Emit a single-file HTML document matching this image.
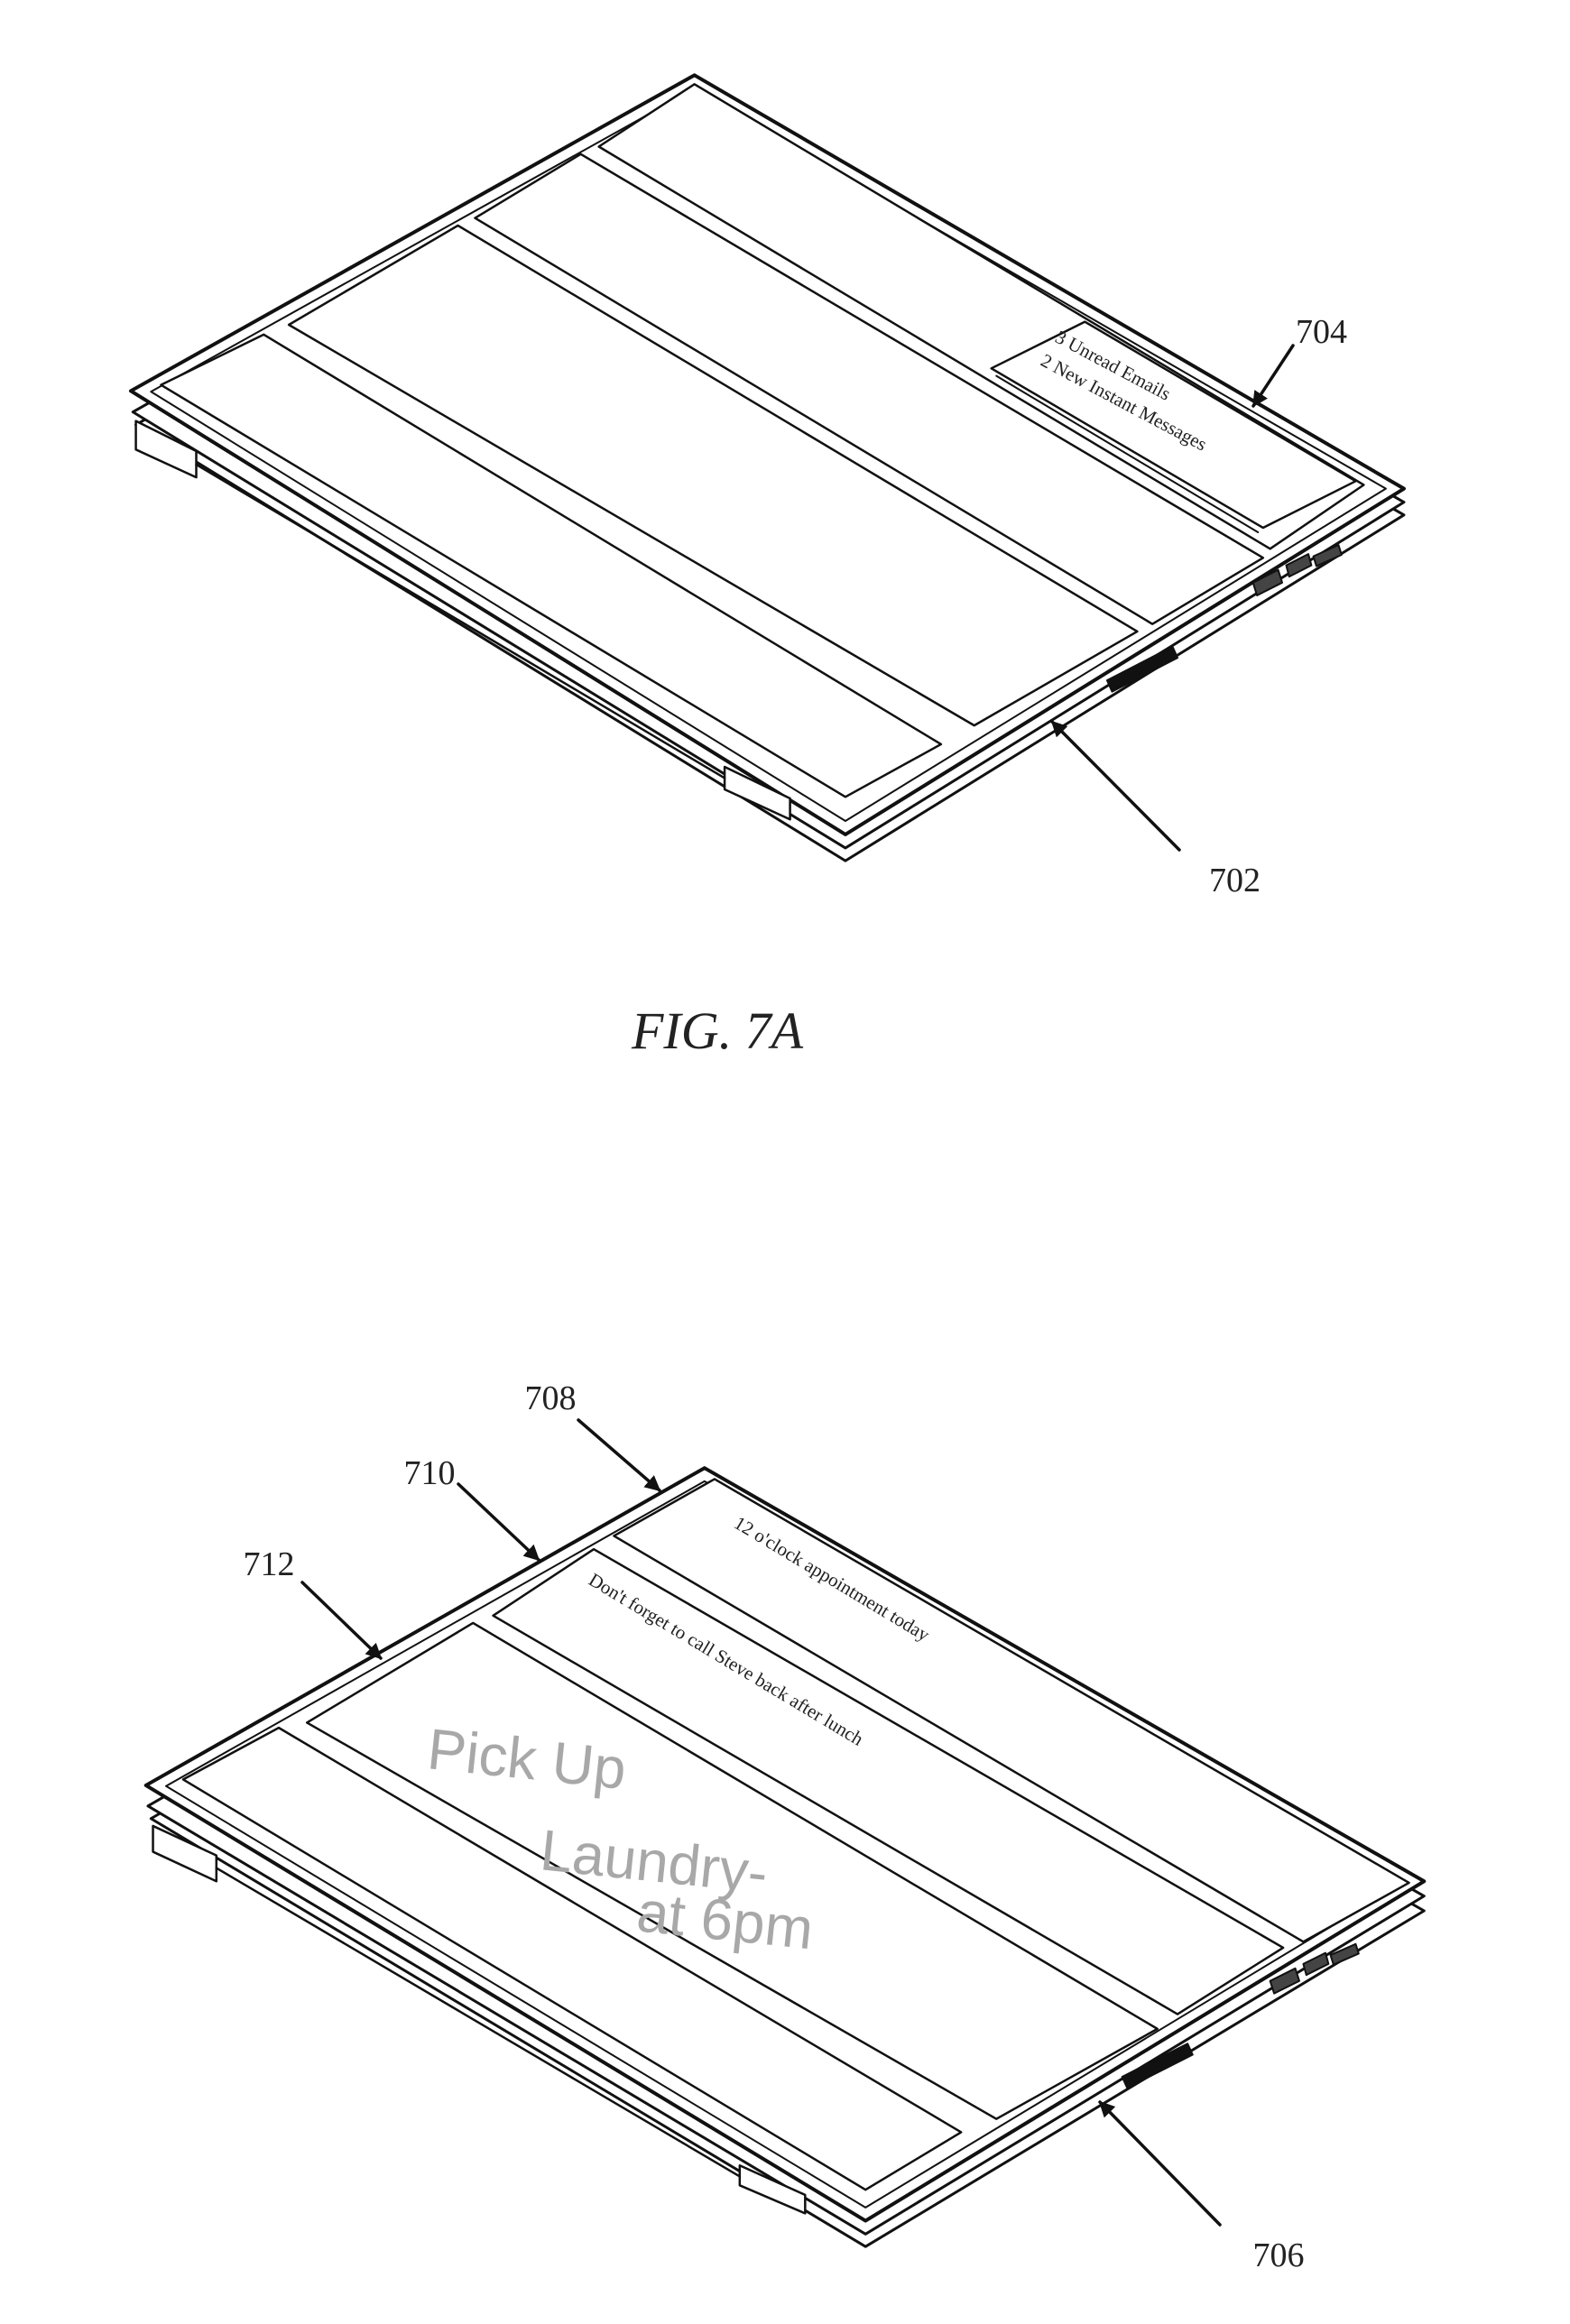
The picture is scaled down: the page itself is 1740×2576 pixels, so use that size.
<!DOCTYPE html>
<html><head><meta charset="utf-8"><style>
html,body{margin:0;padding:0;background:#fff;}
svg{display:block;}
text{font-family:"Liberation Serif",serif;fill:#222;}
.hw{font-family:"Liberation Sans",sans-serif;fill:#a8a8a8;}
</style></head><body>
<svg width="1740" height="2576" viewBox="0 0 1740 2576" xmlns="http://www.w3.org/2000/svg">
<defs>
<marker id="ah" viewBox="0 0 10 10" refX="9" refY="5" markerWidth="5" markerHeight="5" orient="auto"><path d="M0,0 L10,5 L0,10 z" fill="#111"/></marker>
</defs>
<g fill="#fff" stroke="#111" stroke-linejoin="round" stroke-linecap="round">
<!-- ===== FIG 7A ===== -->
<g transform="scale(1.1154,0.8333)">
<polygon vector-effect="non-scaling-stroke" points="135,565 690,140 1395,685 840,1145" stroke-width="3"/>
<polygon vector-effect="non-scaling-stroke" points="132,548 690,125 1395,668 840,1128" stroke-width="3"/>
<polygon vector-effect="non-scaling-stroke" points="130,520 690,100 1395,650 840,1110" stroke-width="4"/>
<polygon vector-effect="non-scaling-stroke" points="150,521 690,118 1377,650 840,1092" stroke-width="2"/>
<polygon vector-effect="non-scaling-stroke" points="135,560 195,600 195,635 135,598" stroke-width="2.5"/>
<polygon vector-effect="non-scaling-stroke" points="720,1020 785,1062 785,1090 720,1050" stroke-width="2.5"/>
<line vector-effect="non-scaling-stroke" x1="195" y1="618" x2="720" y2="1035" stroke-width="2.5"/>
<polygon vector-effect="non-scaling-stroke" points="160,512 262,445 935,990 840,1060" stroke-width="2.5"/>
<polygon vector-effect="non-scaling-stroke" points="287,432 455,300 1130,840 968,965" stroke-width="2.5"/>
<polygon vector-effect="non-scaling-stroke" points="472,290 577,205 1255,742 1145,830" stroke-width="2.5"/>
<polygon vector-effect="non-scaling-stroke" points="595,195 690,112 1355,645 1262,730" stroke-width="2.5"/>
<polygon vector-effect="non-scaling-stroke" points="985,490 1078,428 1347,640 1255,702" stroke-width="2.5"/>
<line vector-effect="non-scaling-stroke" x1="990" y1="500" x2="1250" y2="708" stroke-width="2"/>
<polygon vector-effect="non-scaling-stroke" points="1100,905 1165,860 1170,875 1105,920" fill="#111" stroke-width="2"/>
<polygon vector-effect="non-scaling-stroke" points="1245,775 1270,758 1274,775 1249,792" fill="#444" stroke-width="2"/>
<polygon vector-effect="non-scaling-stroke" points="1278,752 1300,737 1303,752 1281,767" fill="#444" stroke-width="2"/>
<polygon vector-effect="non-scaling-stroke" points="1305,740 1330,725 1333,738 1308,753" fill="#444" stroke-width="2"/>
</g>

<!-- ===== FIG 7B ===== -->
<g transform="translate(0,1300) scale(1.1154,0.818)">
<polygon vector-effect="non-scaling-stroke" points="150,875 700,445 1415,1000 860,1455" stroke-width="3"/>
<polygon vector-effect="non-scaling-stroke" points="147,858 700,425 1415,980 860,1438" stroke-width="3"/>
<polygon vector-effect="non-scaling-stroke" points="145,830 700,400 1415,960 860,1420" stroke-width="4"/>
<polygon vector-effect="non-scaling-stroke" points="165,831 700,418 1397,960 860,1402" stroke-width="2"/>
<polygon vector-effect="non-scaling-stroke" points="152,885 215,925 215,960 152,920" stroke-width="2.5"/>
<polygon vector-effect="non-scaling-stroke" points="735,1345 800,1385 800,1410 735,1372" stroke-width="2.5"/>
<line vector-effect="non-scaling-stroke" x1="215" y1="942" x2="735" y2="1360" stroke-width="2.5"/>
<polygon vector-effect="non-scaling-stroke" points="182,822 277,752 955,1300 860,1378" stroke-width="2.5"/>
<polygon vector-effect="non-scaling-stroke" points="305,745 470,610 1150,1160 990,1282" stroke-width="2.5"/>
<polygon vector-effect="non-scaling-stroke" points="490,600 590,510 1275,1050 1170,1140" stroke-width="2.5"/>
<polygon vector-effect="non-scaling-stroke" points="610,492 710,415 1400,962 1295,1042" stroke-width="2.5"/>
<polygon vector-effect="non-scaling-stroke" points="1115,1225 1180,1180 1185,1195 1120,1240" fill="#111" stroke-width="2"/>
<polygon vector-effect="non-scaling-stroke" points="1262,1095 1287,1078 1291,1095 1266,1112" fill="#444" stroke-width="2"/>
<polygon vector-effect="non-scaling-stroke" points="1295,1072 1317,1057 1320,1072 1298,1087" fill="#444" stroke-width="2"/>
<polygon vector-effect="non-scaling-stroke" points="1322,1060 1347,1045 1350,1058 1325,1073" fill="#444" stroke-width="2"/>
</g>

<!-- arrows (real coords) -->
<line x1="1433" y1="383" x2="1389" y2="450" stroke-width="3.5" marker-end="url(#ah)"/>
<line x1="1307" y1="942" x2="1166" y2="800" stroke-width="3.5" marker-end="url(#ah)"/>
<line x1="641" y1="1574" x2="731" y2="1652" stroke-width="3.5" marker-end="url(#ah)"/>
<line x1="508" y1="1645" x2="597" y2="1729" stroke-width="3.5" marker-end="url(#ah)"/>
<line x1="335" y1="1754" x2="422" y2="1838" stroke-width="3.5" marker-end="url(#ah)"/>
<line x1="1352" y1="2466" x2="1219" y2="2330" stroke-width="3.5" marker-end="url(#ah)"/>
</g>

<!-- text 7A -->
<text x="1168" y="378" font-size="21" transform="rotate(28 1168 378)">3 Unread Emails</text>
<text x="1152" y="404" font-size="21" transform="rotate(28 1152 404)">2 New Instant Messages</text>
<text x="1436" y="380" font-size="38">704</text>
<text x="1340" y="988" font-size="38">702</text>
<text x="795" y="1162" font-size="58" font-style="italic" text-anchor="middle">FIG. 7A</text>

<!-- text 7B -->
<text x="812" y="1692" font-size="21" transform="rotate(31 812 1692)">12 o'clock appointment today</text>
<text x="651" y="1755" font-size="21" transform="rotate(31 651 1755)">Don't forget to call Steve back after lunch</text>
<text class="hw" x="472" y="1960" font-size="64" transform="rotate(6 472 1960)">Pick Up</text>
<text class="hw" x="597" y="2072" font-size="64" transform="rotate(6 597 2072)">Laundry-</text>
<text class="hw" x="704" y="2140" font-size="64" transform="rotate(6 704 2140)">at 6pm</text>
<text x="610" y="1562" font-size="38" text-anchor="middle">708</text>
<text x="476" y="1645" font-size="38" text-anchor="middle">710</text>
<text x="298" y="1746" font-size="38" text-anchor="middle">712</text>
<text x="1417" y="2512" font-size="38" text-anchor="middle">706</text>
</svg>
</body></html>
